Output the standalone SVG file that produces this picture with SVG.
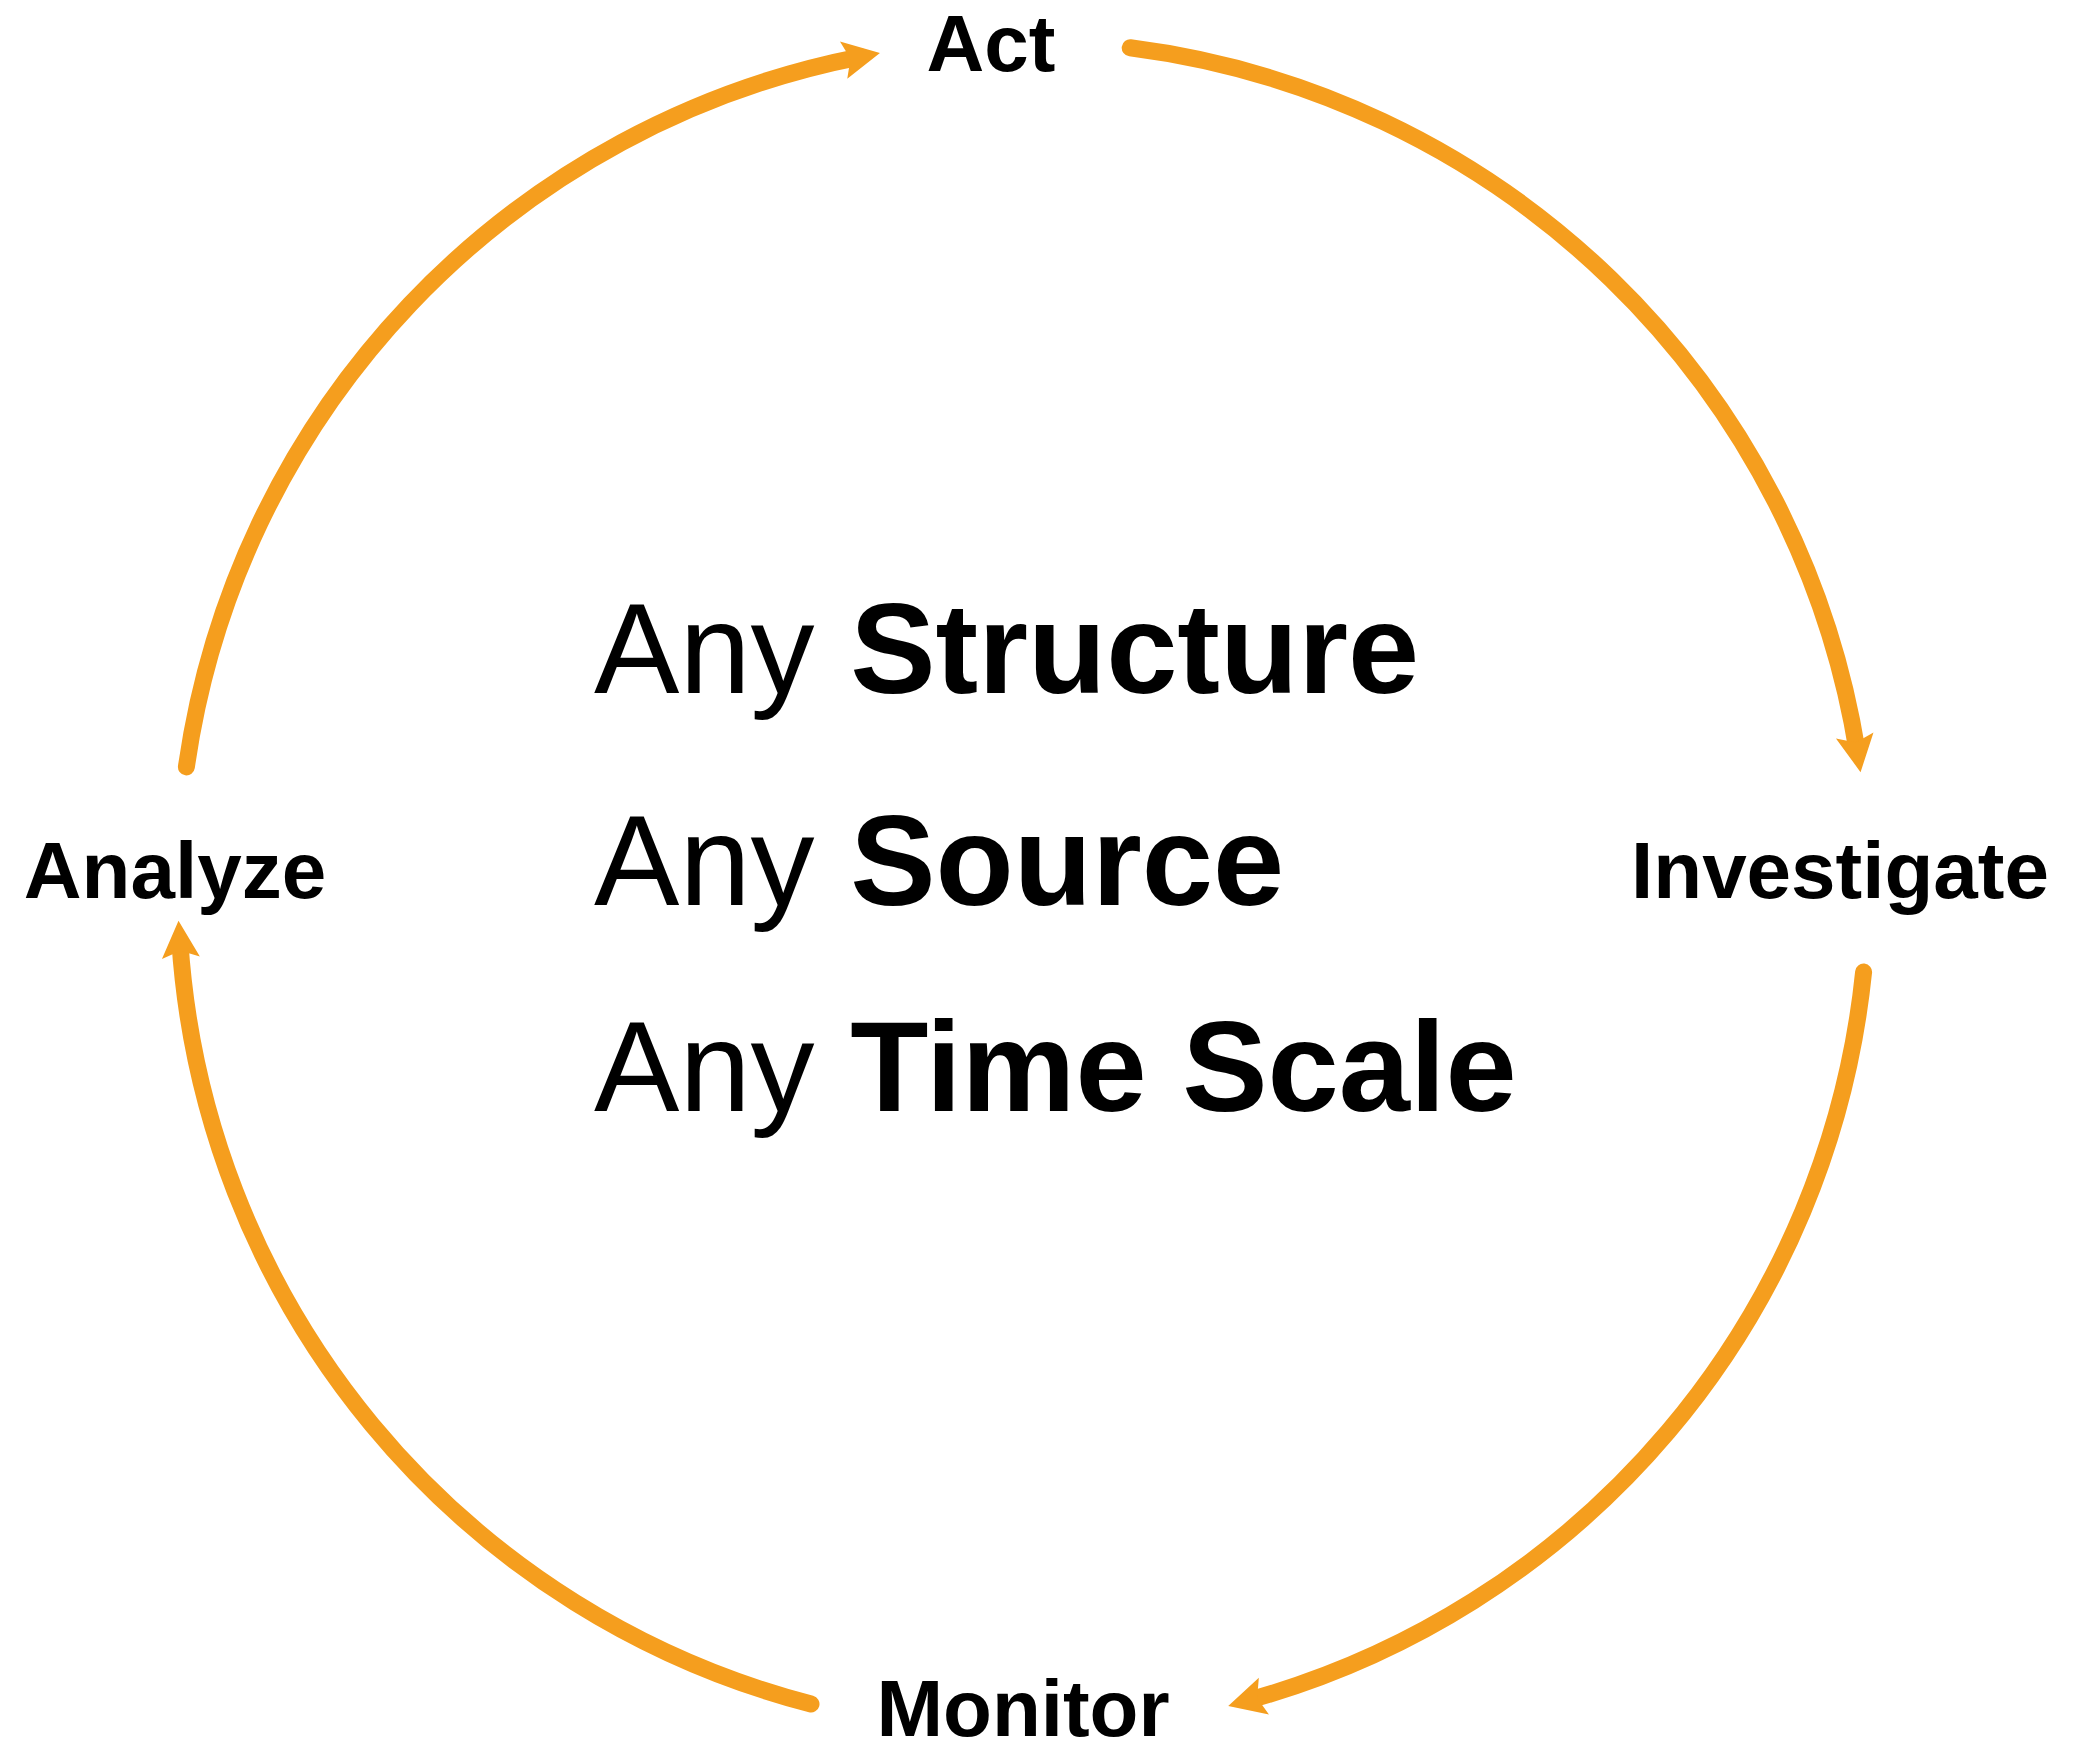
<svg xmlns="http://www.w3.org/2000/svg" width="2094" height="1751" viewBox="0 0 2094 1751">
  <style>
    .arc { fill: none; stroke: #F59E1E; stroke-width: 17; stroke-linecap: round; }
    .label { font-family: "Liberation Sans", Arial, sans-serif; font-weight: bold; font-size: 80px; fill: #000; text-anchor: middle; }
    .center { font-family: "Liberation Sans", Arial, sans-serif; font-size: 128px; fill: #000; }
    .b { font-weight: bold; }
  </style>
  <defs>
    <marker id="arrow" markerUnits="userSpaceOnUse" viewBox="0 0 42 42" markerWidth="42" markerHeight="42" refX="20" refY="21" orient="auto" overflow="visible">
      <path d="M40,21 L3,2 L10,21 L3,40 Z" fill="#F59E1E"/>
    </marker>
  </defs>
  <rect x="0" y="0" width="2094" height="1751" fill="#fff"/>
  <g id="connectors">
    <path class="arc" d="M186.4,766.9 A845,845 0 0 1 860.3,56.8" marker-end="url(#arrow)"/>
    <path class="arc" d="M1130.2,47.8 A845,845 0 0 1 1857.4,752.4" marker-end="url(#arrow)"/>
    <path class="arc" d="M1863.6,972.0 A845,845 0 0 1 1247.5,1700.6" marker-end="url(#arrow)"/>
    <path class="arc" d="M811.0,1704.0 A845,845 0 0 1 179.8,940.8" marker-end="url(#arrow)"/>
  </g>
  <g id="node-act"><text class="label" x="991" y="71">Act</text></g>
  <g id="node-investigate"><text class="label" x="1840" y="898">Investigate</text></g>
  <g id="node-monitor"><text class="label" x="1023" y="1736">Monitor</text></g>
  <g id="node-analyze"><text class="label" x="175" y="898">Analyze</text></g>
  <g id="center-text">
    <text class="center" x="594" y="693">Any <tspan class="b">Structure</tspan></text>
    <text class="center" x="594" y="905">Any <tspan class="b">Source</tspan></text>
    <text class="center" x="594" y="1111">Any <tspan class="b">Time Scale</tspan></text>
  </g>
</svg>
